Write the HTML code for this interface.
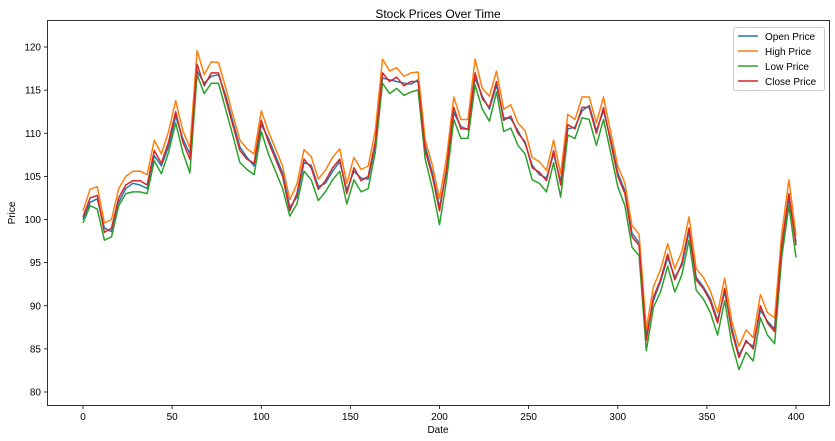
<!DOCTYPE html>
<html><head><meta charset="utf-8"><style>
body{margin:0;background:#fff;font-family:"Liberation Sans","DejaVu Sans",sans-serif;}
svg{display:block}
</style></head><body>
<svg id="chart" width="835" height="441">
<rect x="0" y="0" width="835" height="441" fill="#fff"/>
<text x="438" y="18" font-size="12" text-anchor="middle" fill="#000">Stock Prices Over Time</text>
<text x="438" y="433" font-size="10" text-anchor="middle" fill="#000">Date</text>
<text x="15" y="213" font-size="10" text-anchor="middle" fill="#000" transform="rotate(-90 15 213)">Price</text>
<g id="axes"></g>
<g id="series"></g>
<rect x="47.5" y="20.5" width="782" height="385" fill="none" stroke="#000" stroke-width="0.8"/>
<g>
<rect x="733.5" y="27.5" width="91" height="63" fill="#fff" stroke="#ccc" rx="2"/>
<g><line x1="738" y1="36" x2="758" y2="36" stroke="#1f77b4" stroke-width="1.5"/><text x="765" y="40" font-size="10">Open Price</text></g>
<g><line x1="738" y1="51" x2="758" y2="51" stroke="#ff7f0e" stroke-width="1.5"/><text x="765" y="55" font-size="10">High Price</text></g>
<g><line x1="738" y1="66" x2="758" y2="66" stroke="#2ca02c" stroke-width="1.5"/><text x="765" y="70" font-size="10">Low Price</text></g>
<g><line x1="738" y1="81" x2="758" y2="81" stroke="#d62728" stroke-width="1.5"/><text x="765" y="85" font-size="10">Close Price</text></g>
</g>
</svg>
<script>
const xTicks=[0,50,100,150,200,250,300,350,400];
const yTicks=[80,85,90,95,100,105,110,115,120];
const dates=[0,4,8,12,16,20,24,28,32,36,40,44,48,52,56,60,64,68,72,76,80,84,88,92,96,100,104,108,112,116,120,124,128,132,136,140,144,148,152,156,160,164,168,172,176,180,184,188,192,196,200,204,208,212,216,220,224,228,232,236,240,244,248,252,256,260,264,268,272,276,280,284,288,292,296,300,304,308,312,316,320,324,328,332,336,340,344,348,352,356,360,364,368,372,376,380,384,388,392,396,400];
const closeP=[100.3,102.5,102.8,98.5,99,102.5,104,104.5,104.5,104,108,106.5,109,112.5,109,107,118,115.5,117,117,114,111,108,107,106.5,111.5,109,107,105,101,103,107,106,103.5,104.5,106,107,103,106,104.5,105,109,117,116,116.5,115.5,116,116,108,105,101,106,113,110.5,110.5,117,114,113,116,111.5,112,110,109,106,105.5,104.5,108,104,111,110.5,113,113,110,113,109,105,103,98,97,86,91,93,96,93,95,99,93,92,90.5,88,92,87,84,86,85,90,88,87,97,103,97];
const openP=[100,102,102.4,99,98.6,102,103.6,104.2,104,103.6,107.4,106.2,108.5,112,109.4,107.6,117.2,115.8,116.6,116.8,114.4,111.4,108.4,107.2,106.2,111,109.4,107.4,105.4,101.4,102.6,106.6,106.3,103.8,104.2,105.6,106.7,103.4,105.6,104.8,104.7,108.6,116.4,116.2,116,115.8,115.7,116.2,108.5,105.4,101.4,105.6,112.4,110.8,110.4,116.4,114.3,112.8,115.6,111.8,111.7,110.3,108.8,106.3,105.2,104.8,107.6,104.4,110.5,110.7,112.6,113.2,110.3,112.6,109.3,105.4,103.3,98.4,97.3,86.5,90.6,92.8,95.6,93.3,94.7,98.6,93.3,92.2,90.8,88.3,91.6,87.4,84.3,85.8,85.3,89.5,88.2,87.3,96.4,102.5,97.4];
const highP=[101,103.5,103.8,99.6,100,103.6,105,105.6,105.6,105.2,109.2,107.6,110.2,113.8,110.3,108.3,119.6,116.8,118.3,118.2,115.3,112.2,109.2,108.2,107.6,112.6,110.2,108.2,106.2,102.3,104.1,108.1,107.3,104.7,105.7,107.2,108.2,104.2,107.2,105.8,106.2,110.3,118.6,117.2,117.6,116.6,117,117.1,109.2,106.3,102.4,107.2,114.2,111.6,111.6,118.6,115.2,114.3,117.2,112.8,113.3,111.2,110.3,107.2,106.7,105.7,109.2,105.3,112.2,111.6,114.2,114.2,111.2,114.2,110.2,106.2,104.2,99.3,98.3,87.3,92.2,94.2,97.2,94.3,96.3,100.3,94.3,93.3,91.7,89.2,93.2,88.2,85.3,87.2,86.3,91.3,89.2,88.6,98.3,104.6,98.2];
const lowP=[99.6,101.6,101.2,97.6,98,101.6,103,103.2,103.2,103,106.8,105.3,107.8,111.2,107.8,105.4,116.8,114.6,115.8,115.8,112.8,109.8,106.6,105.8,105.2,110.2,107.6,105.6,103.6,100.4,101.8,105.6,104.6,102.2,103.2,104.6,105.6,101.8,104.6,103.2,103.6,107.8,115.8,114.6,115.2,114.4,114.8,115,107,103.6,99.4,104.6,111.6,109.4,109.4,115.6,112.8,111.4,114.8,110.2,110.6,108.6,107.6,104.6,104.2,103.2,106.6,102.6,109.8,109.4,111.8,111.6,108.6,111.6,107.8,103.8,101.6,96.8,95.8,84.8,89.8,91.6,94.6,91.6,93.6,97.6,91.8,90.8,89.2,86.6,90.6,85.6,82.6,84.6,83.6,88.6,86.6,85.6,95.6,101.6,95.6];
const svgNS="http://www.w3.org/2000/svg";
const X=v=>83+(v-0)*(796-83)/400;
const Y=v=>392-(v-80)*(392-47)/40;
const axes=document.getElementById('axes');
xTicks.forEach(t=>{
  const l=document.createElementNS(svgNS,'line');
  l.setAttribute('x1',X(t));l.setAttribute('x2',X(t));l.setAttribute('y1',405.5);l.setAttribute('y2',409);
  l.setAttribute('stroke','#000');l.setAttribute('stroke-width','0.8');
  
  
  axes.appendChild(l);
  const tx=document.createElementNS(svgNS,'text');
  tx.setAttribute('x',X(t));tx.setAttribute('y',420);tx.setAttribute('font-size','10');tx.setAttribute('text-anchor','middle');
  tx.textContent=t;
  
  
  axes.appendChild(tx);
});
yTicks.forEach(t=>{
  const l=document.createElementNS(svgNS,'line');
  l.setAttribute('x1',44);l.setAttribute('x2',47.5);l.setAttribute('y1',Y(t));l.setAttribute('y2',Y(t));
  l.setAttribute('stroke','#000');l.setAttribute('stroke-width','0.8');
  
  
  axes.appendChild(l);
  const tx=document.createElementNS(svgNS,'text');
  tx.setAttribute('x',41);tx.setAttribute('y',Y(t)+3.5);tx.setAttribute('font-size','10');tx.setAttribute('text-anchor','end');
  tx.textContent=t;
  
  
  axes.appendChild(tx);
});
const g=document.getElementById('series');
function draw(vals,color,name){
  const p=document.createElementNS(svgNS,'polyline');
  p.setAttribute('points',vals.map((v,i)=>X(dates[i]).toFixed(1)+','+Y(v).toFixed(1)).join(' '));
  p.setAttribute('fill','none');p.setAttribute('stroke',color);p.setAttribute('stroke-width','1.5');
  p.setAttribute('stroke-linejoin','round');
  
  
  g.appendChild(p);
}
draw(openP,'#1f77b4','open-price-line');
draw(highP,'#ff7f0e','high-price-line');
draw(lowP,'#2ca02c','low-price-line');
draw(closeP,'#d62728','close-price-line');
</script>
</body></html>
